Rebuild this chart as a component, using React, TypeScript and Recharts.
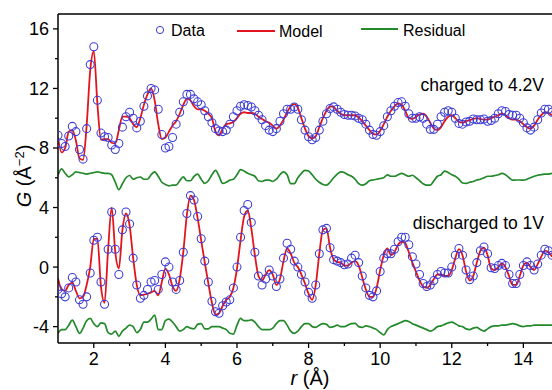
import { ComposedChart, Line, XAxis, YAxis, ReferenceLine } from "recharts";

// r grid (Å)
const rValues = [
  1.0, 1.1, 1.2, 1.3, 1.4, 1.5, 1.6, 1.7, 1.8, 1.9,
  2.0, 2.1, 2.2, 2.3, 2.4, 2.5, 2.6, 2.7, 2.8, 2.9,
  3.0, 3.1, 3.2, 3.3, 3.4, 3.5, 3.6, 3.7, 3.8, 3.9,
  4.0, 4.1, 4.2, 4.3, 4.4, 4.5, 4.6, 4.7, 4.8, 4.9,
  5.0, 5.1, 5.2, 5.3, 5.4, 5.5, 5.6, 5.7, 5.8, 5.9,
  6.0, 6.1, 6.2, 6.3, 6.4, 6.5, 6.6, 6.7, 6.8, 6.9,
  7.0, 7.1, 7.2, 7.3, 7.4, 7.5, 7.6, 7.7, 7.8, 7.9,
  8.0, 8.1, 8.2, 8.3, 8.4, 8.5, 8.6, 8.7, 8.8, 8.9,
  9.0, 9.1, 9.2, 9.3, 9.4, 9.5, 9.6, 9.7, 9.8, 9.9,
  10.0, 10.1, 10.2, 10.3, 10.4, 10.5, 10.6, 10.7, 10.8, 10.9,
  11.0, 11.1, 11.2, 11.3, 11.4, 11.5, 11.6, 11.7, 11.8, 11.9,
  12.0, 12.1, 12.2, 12.3, 12.4, 12.5, 12.6, 12.7, 12.8, 12.9,
  13.0, 13.1, 13.2, 13.3, 13.4, 13.5, 13.6, 13.7, 13.8, 13.9,
  14.0, 14.1, 14.2, 14.3, 14.4, 14.5, 14.6, 14.7, 14.8,
];

// charged to 4.2V (offset curve)
const chargedData = [
  8.86, 8.3, 8.1, 8.8, 9.45, 9.1, 7.9, 7.25, 9.3, 13.6,
  14.8, 11.2, 9.0, 8.75, 8.7, 8.2, 7.9, 8.3, 9.4, 10.1,
  10.4, 10.0, 9.35, 9.8, 10.8, 11.5, 12.0, 11.9, 10.6, 8.9,
  8.0, 8.1, 8.7, 9.6, 10.4, 11.1, 11.6, 11.6, 11.3, 11.1,
  10.9, 10.5, 10.1, 9.7, 9.3, 9.15, 9.1, 9.2, 9.6, 10.1,
  10.5, 10.8, 10.9, 10.85, 10.75, 10.5, 10.2, 9.9, 9.5, 9.2,
  9.1, 9.3, 9.8, 10.3, 10.6, 10.6, 10.75, 10.6, 9.9, 9.2,
  8.75, 8.55, 8.7, 9.2, 9.8, 10.3, 10.65, 10.76, 10.6, 10.4,
  10.25, 10.2, 10.2, 10.15, 10.0, 9.9, 9.6, 9.2, 8.9, 8.85,
  9.1, 9.5, 10.1, 10.5, 10.8, 11.05, 11.1, 10.8, 10.3, 10.0,
  10.0, 10.1, 10.0, 9.6, 9.25, 9.25, 9.6, 10.1, 10.4, 10.5,
  10.4, 10.0, 9.65, 9.6, 9.75, 9.8, 9.95, 9.9, 9.9, 9.95,
  9.8, 9.85, 10.0, 10.3, 10.5, 10.45, 10.25, 10.2, 10.2, 10.0,
  9.7, 9.35, 9.2, 9.4, 9.9, 10.35, 10.6, 10.6, 10.4,
];
const chargedModel = [
  8.7, 7.7, 8.0, 9.1, 9.2, 8.5, 7.3, 7.2, 9.5, 13.2,
  14.5, 11.0, 8.55, 8.6, 8.6, 8.35, 8.3, 9.2, 10.1, 10.1,
  10.0, 9.6, 9.4, 10.0, 10.9, 11.6, 12.0, 11.2, 9.6, 8.6,
  8.7, 9.1, 9.5, 9.8, 10.3, 10.9, 11.3, 11.2, 10.8, 10.6,
  10.6, 10.5, 10.3, 10.0, 9.1, 8.85, 9.3, 9.6, 9.65, 9.75,
  10.0, 10.3, 10.4, 10.35, 10.35, 10.3, 10.1, 9.95, 9.8, 9.7,
  9.5, 9.3, 9.5, 9.9, 10.4, 10.8, 10.94, 10.7, 10.0, 9.3,
  8.8, 8.65, 8.8, 9.4, 10.0, 10.5, 10.8, 10.75, 10.5, 10.3,
  10.2, 10.2, 10.2, 10.2, 10.05, 9.8, 9.5, 9.2, 8.95, 8.9,
  9.15, 9.6, 10.1, 10.5, 10.8, 11.0, 10.9, 10.5, 10.0, 9.95,
  10.1, 10.25, 10.3, 10.1, 9.7, 9.3, 9.2, 9.4, 9.8, 10.1,
  10.2, 10.0, 9.75, 9.7, 9.8, 9.87, 9.95, 10.0, 9.95, 9.9,
  9.9, 10.0, 10.1, 10.2, 10.3, 10.2, 10.0, 9.9, 9.9, 9.8,
  9.6, 9.4, 9.3, 9.5, 9.9, 10.2, 10.4, 10.35, 10.2,
];
const chargedResidual = [
  6.17, 6.6, 6.3, 6.06, 6.2, 6.4, 6.35, 6.3, 6.25, 6.3,
  6.35, 6.4, 6.35, 6.3, 6.3, 6.2, 5.7, 5.2, 5.6, 6.0,
  6.15, 5.9, 6.0, 6.05, 5.9, 5.9, 6.2, 6.4, 6.1, 5.7,
  5.55, 5.46, 5.5, 5.5, 5.8, 6.06, 5.8, 5.8, 6.1, 6.25,
  5.9, 5.62, 5.8, 6.2, 6.5, 6.1, 5.62, 5.7, 5.84, 5.9,
  6.2, 6.55, 6.45, 6.3, 6.2, 6.1, 5.8, 5.75, 5.84, 5.84,
  5.75, 5.9, 6.2, 6.4, 6.2, 5.6, 5.6, 6.0, 6.3, 6.5,
  6.45, 6.2, 5.9, 5.7, 5.55, 5.5, 5.7, 6.0, 6.25, 6.4,
  6.35, 6.2, 6.1, 5.9, 5.6, 5.5, 5.6, 5.8, 5.85, 5.9,
  5.95, 6.0, 6.2, 6.1, 6.1, 6.2, 6.3, 6.2, 6.1, 6.17,
  6.0, 5.8, 5.6, 5.5, 5.5, 5.8, 6.1, 6.2, 6.45, 6.35,
  6.2, 6.1, 5.9, 5.65, 5.62, 5.7, 5.75, 5.85, 5.9, 6.0,
  6.1, 6.1, 6.15, 6.2, 6.29, 6.2, 6.0, 5.84, 5.85, 5.85,
  5.84, 5.9, 6.0, 6.1, 6.17, 6.2, 6.25, 6.25, 6.29,
];

// discharged to 1V
const dischargedData = [
  -1.5, -1.8, -2.0, -1.4, -0.7, -1.0, -2.2, -2.5, -2.0, -0.4,
  1.8, 2.0, -1.0, -2.5, 1.2, 3.7, 1.2, -0.5, 2.5, 3.7,
  2.9, 0.6, -1.2, -2.1, -1.9, -1.5, -1.0, -0.9, -1.5, -0.5,
  0.35, 0.0, -1.0, -1.5, -0.9, 1.0, 3.6, 4.8, 4.5, 3.4,
  1.9, 0.4, -1.0, -2.3, -3.0, -3.1, -2.6, -2.35, -2.2, -1.4,
  0.0, 2.0, 3.8, 4.2, 3.0, 1.0, -0.6, -1.2, -0.8, -0.2,
  -0.6, -1.3, -0.8, 0.6, 1.6, 1.2, 0.4, 0.0, -0.5, -1.0,
  -1.7, -2.1, -1.2, 0.9, 2.5, 2.6, 1.3, 0.5, 0.4, 0.3,
  0.15, 0.2, 0.6, 0.8, 0.3, -0.6, -1.4, -1.9, -2.0, -1.6,
  -0.3, 0.6, 0.9, 0.9, 1.2, 1.7, 2.0, 2.0, 1.5, 0.7,
  0.2, -0.5, -1.1, -1.3, -1.2, -0.9, -0.5, -0.3, -0.4, -0.4,
  0.0, 0.8, 1.25, 0.8, -0.2, -0.85, -0.6, 0.3, 1.1, 1.35,
  0.9, -0.05, -0.1, 0.1, 0.25, 0.1, -0.5, -1.1, -1.1, -0.5,
  0.1, 0.35, 0.1, -0.2, 0.2, 0.8, 1.2, 1.1, 0.8,
];
const dischargedModel = [
  -0.76, -1.5, -1.6, -1.2, -1.05, -1.6, -2.1, -2.0, -1.2, 0.0,
  1.9, 1.9, -1.3, -2.4, 1.2, 4.0, 1.0, -0.1, 2.5, 3.6,
  2.8, 0.6, -1.2, -1.9, -1.85, -1.8, -1.7, -1.6, -1.9, -1.0,
  -0.1, -0.5, -1.3, -1.6, -0.8, 1.0, 3.5, 4.8, 4.5, 3.3,
  1.8, 0.3, -1.1, -2.4, -3.2, -3.1, -2.6, -2.2, -2.0, -1.4,
  -0.1, 1.8, 3.4, 3.8, 2.6, 0.8, -0.6, -0.9, -0.5, -0.2,
  -0.5, -1.2, -0.8, 0.4, 1.25, 0.9, 0.3, 0.0, -0.5, -1.1,
  -1.8, -2.2, -1.2, 0.9, 2.5, 2.6, 1.3, 0.5, 0.35, 0.3,
  0.1, 0.1, 0.3, 0.4, 0.1, -0.7, -1.5, -2.0, -2.0, -1.4,
  -0.2, 0.8, 1.25, 0.8, 1.0, 1.5, 1.7, 1.6, 1.0, 0.3,
  -0.3, -0.9, -1.3, -1.4, -1.2, -0.8, -0.5, -0.5, -0.6, -0.6,
  -0.2, 0.6, 1.2, 0.8, -0.3, -0.9, -0.6, 0.3, 1.1, 1.3,
  0.8, -0.1, -0.2, 0.0, 0.25, 0.0, -0.6, -1.2, -1.2, -0.6,
  0.1, 0.3, 0.0, -0.2, 0.2, 0.7, 1.1, 1.0, 0.7,
];
const dischargedResidual = [
  -4.45, -4.2, -4.2, -3.9, -3.56, -4.0, -4.45, -4.1, -3.6, -3.45,
  -3.8, -4.0, -3.75, -3.8, -4.4, -4.5, -4.3, -4.65, -4.3, -4.1,
  -3.9, -4.0, -4.4, -4.2, -3.7, -3.7, -3.5, -3.22, -4.2, -4.2,
  -3.6, -3.5, -3.7, -4.0, -4.3, -4.2, -4.0, -4.1, -4.15, -3.85,
  -3.8, -4.15, -4.15, -4.0, -4.0, -4.0, -4.1, -4.2, -4.45, -4.5,
  -3.9, -3.45, -3.6, -3.6, -3.55, -3.7, -4.0, -4.2, -4.2, -4.2,
  -4.1, -3.8, -3.6, -3.6, -3.9, -4.3, -4.45, -4.3, -4.0, -3.8,
  -3.8, -4.0, -4.05, -3.9, -3.8, -3.85, -4.05, -4.0, -3.9, -4.0,
  -4.0, -3.9, -3.8, -3.78, -4.0, -4.05, -3.95, -4.0, -4.1, -4.2,
  -4.4, -4.56, -4.2, -4.0, -3.9, -3.8, -3.7, -3.6, -3.65, -3.8,
  -3.9, -4.0, -4.1, -4.2, -4.3, -4.2, -4.0, -3.95, -3.85, -3.75,
  -3.7, -3.8, -3.95, -4.0, -4.15, -4.2, -4.1, -4.05, -4.2, -4.3,
  -4.15, -4.0, -3.95, -3.95, -3.9, -3.9, -3.85, -3.8, -3.85, -3.95,
  -4.0, -3.95, -3.95, -3.9, -3.9, -3.9, -3.9, -3.9, -3.9,
];

const xTicks = [2, 3, 4, 5, 6, 7, 8, 9, 10, 11, 12, 13, 14];
const yTicks = [-4, -2, 0, 2, 4, 6, 8, 10, 12, 14, 16];

const BLUE = "#3b3bd4";
const RED = "#e3141c";
const GREEN = "#23892a";
const FONT = "'Liberation Sans', Arial, sans-serif";
const TICK_SIZE = 5;
const TICK_MARGIN = 4;

const chartData = rValues.map((r, i) => ({
  r,
  cd: chargedData[i],
  cm: chargedModel[i],
  cr: chargedResidual[i],
  dd: dischargedData[i],
  dm: dischargedModel[i],
  dr: dischargedResidual[i],
}));

function YTick(props: any) {
  const { x, y, payload } = props;
  const major = payload.value % 4 === 0;
  const ax = x + TICK_SIZE + TICK_MARGIN;
  return (
    <g>
      <line x1={ax} x2={ax - (major ? 5 : 3)} y1={y} y2={y} stroke="#000" strokeWidth={1.3} />
      {major && (
        <text x={x} y={y} dy="0.36em" textAnchor="end" fontSize={18} fontFamily={FONT} fill="#000">
          {payload.value}
        </text>
      )}
    </g>
  );
}

function XTick(props: any) {
  const { x, y, payload } = props;
  const major = payload.value % 2 === 0;
  const ay = y - TICK_SIZE - TICK_MARGIN;
  return (
    <g>
      <line x1={x} x2={x} y1={ay} y2={ay + (major ? 5 : 3)} stroke="#000" strokeWidth={1.3} />
      {major && (
        <text x={x} y={y} dy="0.71em" textAnchor="middle" fontSize={18} fontFamily={FONT} fill="#000">
          {payload.value}
        </text>
      )}
    </g>
  );
}

function Overlay() {
  return (
    <svg
      width={552}
      height={390}
      style={{ position: "absolute", left: 0, top: 0, pointerEvents: "none" }}
      fontFamily={FONT}
    >
      {/* legend */}
      <circle cx={160} cy={30} r={3.6} fill="none" stroke={BLUE} strokeWidth={1} />
      <text x={171} y={36} fontSize={16}>Data</text>
      <line x1={237} x2={275} y1={31} y2={31} stroke={RED} strokeWidth={1.8} />
      <text x={279} y={36.5} fontSize={16}>Model</text>
      <line x1={361} x2={398} y1={29} y2={29} stroke={GREEN} strokeWidth={1.8} />
      <text x={403} y={36} fontSize={16}>Residual</text>

      <text x={544} y={91} fontSize={17.5} textAnchor="end">charged to 4.2V</text>
      <text x={544} y={229} fontSize={17.5} textAnchor="end">discharged to 1V</text>

      {/* axis titles */}
      <text x={310} y={385} fontSize={20} textAnchor="middle">
        <tspan fontStyle="italic">r</tspan> (Å)
      </text>
      <text x={31} y={176} fontSize={20} textAnchor="middle" transform="rotate(-90 31 176)">
        <tspan fontStyle="italic">G</tspan> (Å
        <tspan fontSize={13} dy={-7}>−2</tspan>
        <tspan dy={7}>)</tspan>
      </text>
    </svg>
  );
}

export default function App() {
  return (
    <div style={{ position: "absolute", left: 0, top: 0, width: 552, height: 390, background: "#fff" }}>
      <ComposedChart
        width={552}
        height={390}
        data={chartData}
        margin={{ top: 14, right: 0, bottom: 0, left: 0 }}
      >
        <XAxis
          dataKey="r"
          type="number"
          domain={[1, 14.8]}
          ticks={xTicks}
          allowDataOverflow
          height={47}
          tickSize={TICK_SIZE}
          tickMargin={TICK_MARGIN}
          tickLine={false}
          tick={<XTick />}
          axisLine={{ stroke: "#000", strokeWidth: 1.5 }}
        />
        <YAxis
          type="number"
          domain={[-5.1, 17]}
          ticks={yTicks}
          allowDataOverflow
          width={58}
          tickSize={TICK_SIZE}
          tickMargin={TICK_MARGIN}
          tickLine={false}
          tick={<YTick />}
          axisLine={{ stroke: "#000", strokeWidth: 1.5 }}
        />
        <ReferenceLine y={17} stroke="#000" strokeWidth={1.5} />

        <Line
          dataKey="cd"
          stroke="none"
          dot={{ r: 4, stroke: BLUE, strokeWidth: 1.05, fill: "none" }}
          activeDot={false}
          isAnimationActive={false}
        />
        <Line
          dataKey="dd"
          stroke="none"
          dot={{ r: 4, stroke: BLUE, strokeWidth: 1.05, fill: "none" }}
          activeDot={false}
          isAnimationActive={false}
        />
        <Line type="monotone" dataKey="cm" stroke={RED} strokeWidth={1.8} dot={false} activeDot={false} isAnimationActive={false} />
        <Line type="monotone" dataKey="dm" stroke={RED} strokeWidth={1.8} dot={false} activeDot={false} isAnimationActive={false} />
        <Line type="monotone" dataKey="cr" stroke={GREEN} strokeWidth={1.7} dot={false} activeDot={false} isAnimationActive={false} />
        <Line type="monotone" dataKey="dr" stroke={GREEN} strokeWidth={1.7} dot={false} activeDot={false} isAnimationActive={false} />
      </ComposedChart>
      <Overlay />
    </div>
  );
}
